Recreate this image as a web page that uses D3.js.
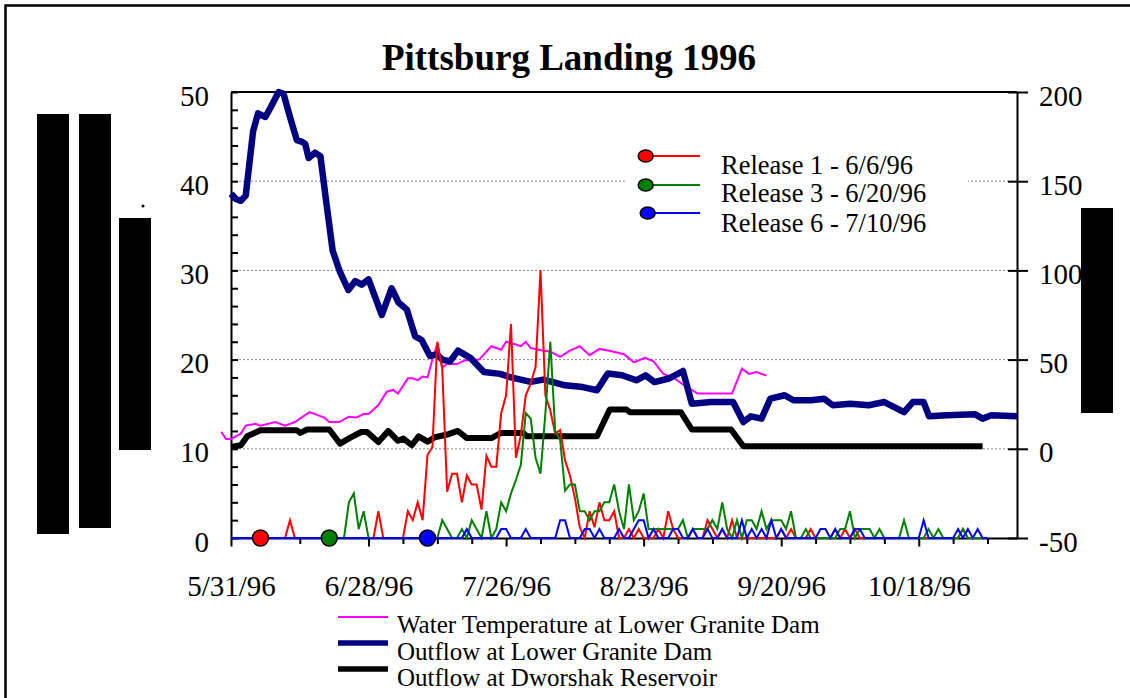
<!DOCTYPE html>
<html><head><meta charset="utf-8">
<script src="https://cdn.jsdelivr.net/npm/d3@7"></script>
<style>
body{margin:0;background:#fff;}
svg{display:block;font-family:"Liberation Serif","Times New Roman",Times,serif;}
</style></head><body>
<svg id="c" width="1130" height="698"></svg>
<script>
// ---- data (days counted from 5/31/96) ----
const titleText = "Pittsburg Landing 1996";
const xTickLabelDays = [0, 28, 56, 84, 112, 140];
const leftLabels = [0, 10, 20, 30, 40, 50];
const rightLabels = [-50, 0, 50, 100, 150, 200];

// Water temperature at Lower Granite Dam (left axis)
const tempDays = [-2,-1,0,2,3,5,6,9,11,13,16,17.5,19,20,22,24,25.5,27,28,30,31.7,33,34,36,37,38,39,40,41,42,43,44,46,47.5,50.5,53,55,56,58,59,60,61,63.6,65,67,69,71,73,75,77,80,82,84.3,86,88,90,92.3,95,102,104,105.4,107,109];
const tempValues = [11.9,11.1,11.1,11.7,12.6,12.8,12.6,13.0,12.6,13.0,14.1,13.8,13.5,13.0,13.0,13.6,13.5,13.9,13.9,14.9,16.4,16.6,16.2,17.9,17.9,17.7,18.1,18.0,20.0,21.8,19.1,19.5,19.5,19.9,20.0,21.5,21.1,22.0,21.7,21.5,22.0,21.3,21.0,20.9,20.3,21.0,21.5,20.5,21.2,21.0,20.6,19.7,20.2,19.8,18.4,18.0,17.1,16.2,16.2,19.0,18.4,18.6,18.2];

// Outflow at Lower Granite Dam (right axis)
const lgDays = [0,1,2,3,4.5,5.5,7,8,9.7,10.7,12,13.4,14.5,15.1,15.8,17.1,18.2,19.5,20.7,22.2,23.9,25.3,26.6,28,30.7,32.7,34.1,35.8,37.5,38.8,40.5,41.9,43,44.6,46.2,48.7,51.5,54.8,57,61,63.6,68,71.6,74.5,76.7,79.6,82.5,84.4,86.2,89.1,92,93.8,97.8,102.2,104.3,105.8,108,109.8,112.7,114.5,118.1,120.7,122.5,126.1,129.8,133,137,138.8,141,142.1,145.7,151.5,153,154.8,160];
const lgFlow = [143,140,139,142,178,188,186,191,200,199,186,173,172,171,163,166,164,136,111,99,89,94,92,95,75,90,82,78,63,61,52,53,50,49,55,51,43,42,40,37.5,38.8,35.6,34.6,32.8,42.2,41.2,38.4,41.2,37.4,39.4,43.6,25.3,26.2,26.2,15,18.2,16.9,28.1,30,27.2,27.2,28.1,24.4,25.3,24.4,26.2,20.6,26.2,26.2,18.2,18.8,19.3,16.9,18.8,18.2];

// Outflow at Dworshak Reservoir (right axis)
const dwDays = [0,2,3.3,6,13.4,14.1,15.5,20,22.2,24.3,26.5,27.7,30,32,34,35.1,36.8,38.2,40,41.5,44,46.2,48,53,55,59.5,60.2,74.5,77.1,80.5,81.2,91.6,93.8,101.8,104.3,153];
const dwFlow = [1,2,7,10.4,10.4,8.9,10.8,10.8,2.9,6.3,9.4,9.4,3.8,10,4.5,5.7,2,7,4,6.5,8,10,6,6,8.9,8.9,7,7,22,22,20.5,20.5,10.8,10.8,1.4,1.4];

// Daily detections (left axis)
const release1Start = 6;   // 6/6/96
const release1 = [0,0,0,0,
  0,0,2,0,0,0,0,0,0,0,
  0,0,0,0,0,0,0,0,0,0,
  3,0,0,0,0,0,3,2,4,2,
  9.3,10.2,22,19,5.2,7.2,7.2,4,7,6,
  6,3.2,9.2,8,8,14,16,24,9,11.5,
  16,17.3,19.2,30,16,14.3,11.7,12.1,8.7,7,
  4.5,1.2,0,3,1.2,4,2,2,3,0,
  0,1,0,1,0,0,0,1,0,3,
  1,0,0,0,1,0,0,2,1,0,
  1,0,2,0,0,0,0,0,0,0,
  0,0,1,0,1,0,0,0,1,0,
  0,0,0,1,0,1,0,1,0,0,
  0,0,0,0,0,0,0,0,0,0,
  0,0,0,0,0,0,0,0,0,1,
  0];
const release3Start = 20;  // 6/20/96
const release3 = [0,0,0,0,4,5,1,3,0,0,
  0,0,0,0,0,0,0,0,0,0,
  0,0,0,2,1,0,0,1,0,2,
  1,0,3,0,1,4,3,5,6.5,8.2,
  14,13.4,9,7.2,14,22,12,11,5.3,6,
  6,3,3,2,3,3,4,4,6,3,
  1,6,2,3,5,1,1,1,1,1,
  1,1,2,0,1,1,1,1,2,1,
  4,1,0,2,0,2,2,1,3,1,
  2,2,2,1,3,0,0,1,0,0,
  0,0,0,0,1,1,3,0,1,1,
  1,0,1,0,0,0,0,2,0,0,
  0,0,1,0,1,0,0,0,0,1,
  0,0,0,0,0];
const release6Start = 0;
const release6 = [0,0,0,0,0,0,0,0,0,0,
  0,0,0,0,0,0,0,0,0,0,
  0,0,0,0,0,0,0,0,0,0,
  0,0,0,0,0,0,0,0,0,0,
  0,0,0,0,0,0,0,0,1,0,
  0,0,0,0,0,1,1,0,0,0,
  1,0,0,0,0,0,0,2,2,0,
  0,0,1,1,0,1,0,0,0,1,
  0,0,1,2,2,0,1,0,0,0,
  1,1,0,0,1,0,0,1,0,0,
  1,0,0,0,2,0,1,0,1,0,
  2,0,1,0,0,0,0,0,0,0,
  1,1,0,1,0,0,0,1,1,0,
  0,0,0,0,0,0,0,0,0,0,
  0,2,0,0,0,0,0,0,1,0,
  1,0,1,0,0];

const releases = [
  {label: "Release 1 - 6/6/96",  color: "#ff0000", day: 6,  start: release1Start, values: release1},
  {label: "Release 3 - 6/20/96", color: "#008000", day: 20, start: release3Start, values: release3},
  {label: "Release 6 - 7/10/96", color: "#0000ff", day: 40, start: release6Start, values: release6}
];
const bottomLegend = [
  {label: "Water Temperature at Lower Granite Dam", color: "#ff00ff", w: 2},
  {label: "Outflow at Lower Granite Dam", color: "#000080", w: 5.5},
  {label: "Outflow at Dworshak Reservoir", color: "#000000", w: 5.5}
];

// ---- scales ----
const t0 = Date.UTC(1996, 4, 31);
const dayDate = d => new Date(t0 + d * 864e5);
const x = d3.scaleUtc().domain([dayDate(0), dayDate(160)]).range([231, 1017]);
const yL = d3.scaleLinear().domain([0, 50]).range([538, 92]);
const yR = d3.scaleLinear().domain([-50, 200]).range([538, 92]);

const svg = d3.select("#c");
svg.append("rect").attr("width", 1130).attr("height", 698).attr("fill", "#fff");
// outer frame
svg.append("rect").attr("x", 5.5).attr("y", 5.5).attr("width", 1140).attr("height", 710)
  .attr("fill", "none").attr("stroke", "#000").attr("stroke-width", 2.5);

// decorative black blocks
[[37,114,32,420],[79,114,32,414],[119,218,32,232],[1081,208,32,205]].forEach(r =>
  svg.append("rect").attr("x", r[0]).attr("y", r[1]).attr("width", r[2]).attr("height", r[3]).attr("fill", "#000"));
svg.append("circle").attr("cx", 143).attr("cy", 206).attr("r", 1.5).attr("fill", "#000");

// title
svg.append("text").attr("x", 569).attr("y", 70).attr("text-anchor", "middle")
  .attr("font-size", 37).attr("font-weight", "bold").text(titleText);

// gridlines
svg.append("g").selectAll("line").data([10, 20, 30, 40]).join("line")
  .attr("x1", 231).attr("x2", 1017).attr("y1", d => yL(d)).attr("y2", d => yL(d))
  .attr("stroke", "#888").attr("stroke-width", 1).attr("stroke-dasharray", "2,2");

// top frame line
svg.append("line").attr("x1", 231).attr("x2", 1017).attr("y1", 92).attr("y2", 92)
  .attr("stroke", "#000").attr("stroke-width", 2);

// left axis
const gL = svg.append("g").attr("transform", "translate(231,0)")
  .call(d3.axisLeft(yL).tickValues(d3.range(0, 51, 2)).tickSizeInner(-7).tickSizeOuter(0)
    .tickPadding(22).tickFormat(d => leftLabels.includes(d) ? String(d) : ""));
// right axis (outward + inward ticks)
const gR = svg.append("g").attr("transform", "translate(1017,0)")
  .call(d3.axisRight(yR).tickValues(rightLabels).tickSizeInner(11).tickSizeOuter(0).tickPadding(11)
    .tickFormat(d => String(d)));
const gR2 = svg.append("g").attr("transform", "translate(1017,0)")
  .call(d3.axisLeft(yR).tickValues(rightLabels).tickSizeInner(9).tickSizeOuter(0).tickFormat(""));
gR2.select(".domain").remove();
// bottom axis
const weekDays = d3.range(0, 155, 7);
const fmt = d3.utcFormat("%-m/%-d/%y");
const gB = svg.append("g").attr("transform", "translate(0,538)")
  .call(d3.axisBottom(x).tickValues(weekDays.map(dayDate)).tickSizeInner(6).tickSizeOuter(0)
    .tickFormat(d => xTickLabelDays.includes(Math.round((d - t0) / 864e5)) ? fmt(d) : ""));
gB.selectAll(".tick").filter(d => xTickLabelDays.includes(Math.round((d - t0) / 864e5)))
  .select("line").attr("y2", 8.5);

[gL, gR, gR2, gB].forEach(g => {
  g.selectAll("path.domain").attr("stroke", "#000").attr("stroke-width", 2);
  g.selectAll(".tick line").attr("stroke", "#000").attr("stroke-width", 2);
  g.selectAll("text").attr("font-family", "Liberation Serif, Times New Roman, serif")
    .attr("font-size", 29).attr("fill", "#000");
});
gL.selectAll("text").attr("dy", "0.45em");
gR.selectAll("text").attr("dy", "0.45em");
gB.selectAll("text").attr("y", 58).attr("dy", 0);

// release legend box
svg.append("rect").attr("x", 627).attr("y", 135).attr("width", 341).attr("height", 105).attr("fill", "#fff");
const legY = [156, 185, 213], legTextY = [174, 202, 232], legMx = [645.7, 645.7, 647.7];
releases.forEach((r, i) => {
  svg.append("line").attr("x1", legMx[i]).attr("x2", 700).attr("y1", legY[i]).attr("y2", legY[i])
    .attr("stroke", r.color).attr("stroke-width", 2);
  svg.append("ellipse").attr("cx", legMx[i]).attr("cy", legY[i]).attr("rx", 7.5).attr("ry", 6)
    .attr("fill", r.color).attr("stroke", "#000").attr("stroke-width", 1.5);
  svg.append("text").attr("x", 721).attr("y", legTextY[i]).attr("font-size", 26.5).text(r.label);
});

// bottom legend
const blY = [617, 643, 669], blT = [633, 660, 686];
bottomLegend.forEach((b, i) => {
  svg.append("line").attr("x1", 338).attr("x2", 388).attr("y1", blY[i]).attr("y2", blY[i])
    .attr("stroke", b.color).attr("stroke-width", b.w);
  svg.append("text").attr("x", 397).attr("y", blT[i]).attr("font-size", 25).text(b.label);
});

// series
const lineL = d3.line().x(d => x(dayDate(d[0]))).y(d => yL(d[1]));
const lineR = d3.line().x(d => x(dayDate(d[0]))).y(d => yR(d[1]));
svg.append("path").attr("d", lineL(d3.zip(tempDays, tempValues)))
  .attr("fill", "none").attr("stroke", "#ff00ff").attr("stroke-width", 2);
svg.append("path").attr("d", lineR(d3.zip(lgDays, lgFlow)))
  .attr("fill", "none").attr("stroke", "#000080").attr("stroke-width", 6.5).attr("stroke-linejoin", "round");
svg.append("path").attr("d", lineR(d3.zip(dwDays, dwFlow)))
  .attr("fill", "none").attr("stroke", "#000").attr("stroke-width", 6).attr("stroke-linejoin", "round");
releases.forEach(r => {
  const pts = r.values.map((v, i) => [r.start + i, v]);
  svg.append("path").attr("d", lineL(pts)).attr("fill", "none")
    .attr("stroke", r.color).attr("stroke-width", 2);
});
releases.forEach(r => {
  svg.append("circle").attr("cx", x(dayDate(r.day))).attr("cy", yL(0)).attr("r", 8)
    .attr("fill", r.color).attr("stroke", "#000").attr("stroke-width", 1.5);
});
</script>
</body></html>
